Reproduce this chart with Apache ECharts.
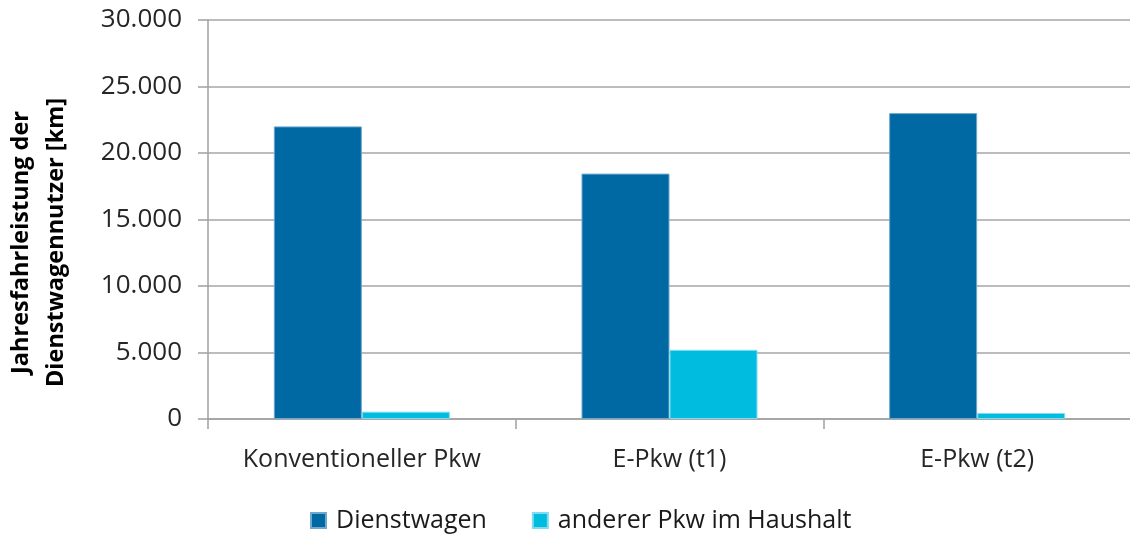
<!DOCTYPE html>
<html>
<head>
<meta charset="utf-8">
<script src="https://cdn.jsdelivr.net/npm/echarts@6/dist/echarts.min.js"></script>
<style>html,body{margin:0;padding:0;background:#fff}#c{width:1130px;height:534px}</style>
</head>
<body>
<div id="c"></div>
<script>
const categories = ['Konventioneller Pkw', 'E-Pkw (t1)', 'E-Pkw (t2)'];
const dienstwagen = [22000, 18450, 23000];
const andererPkw = [550, 5200, 450];
const seriesNames = ['Dienstwagen', 'anderer Pkw im Haushalt'];
const yTitle = 'Jahresfahrleistung der\nDienstwagennutzer [km]';

const FONT = '"Open Sans", sans-serif';
const chart = echarts.init(document.getElementById('c'), null, {renderer: 'canvas'});
chart.setOption({
  animation: false,
  textStyle: {fontFamily: FONT},
  grid: {left: 208, top: 20, width: 923, bottom: 115, containLabel: false, outerBoundsMode: 'none'},
  legend: {
    left: 305, top: 503, padding: 5, itemWidth: 15, itemHeight: 15, itemGap: 45,
    icon: 'rect',
    textStyle: {fontFamily: FONT, fontSize: 25, color: '#1a1a1a', padding: [0, 0, 0, 5]},
    data: seriesNames
  },
  xAxis: {
    type: 'category', data: categories,
    axisLine: {lineStyle: {color: '#a0a0a0', width: 1.5}},
    axisTick: {show: true, length: 10, interval: 0, alignWithLabel: false, lineStyle: {color: '#a0a0a0', width: 1.5}},
    axisLabel: {fontFamily: FONT, fontSize: 25, color: '#262626', margin: 28, interval: 0}
  },
  yAxis: {
    type: 'value', min: 0, max: 30000, interval: 5000,
    name: yTitle, nameLocation: 'middle', nameRotate: 90, nameGap: 134,
    nameTextStyle: {fontFamily: FONT, fontSize: 23.5, fontWeight: 'bold', color: '#000', lineHeight: 35, align: 'center', padding: [0, 46, 0, 0]},
    axisLine: {show: true, lineStyle: {color: '#a0a0a0', width: 1.5}},
    axisTick: {show: true, length: 10, lineStyle: {color: '#a0a0a0', width: 1.5}},
    splitLine: {lineStyle: {color: '#a6a6a6', width: 1.5}},
    axisLabel: {
      fontFamily: FONT, fontSize: 26, color: '#262626', margin: 26,
      formatter: v => v.toLocaleString('de-DE')
    }
  },
  series: [
    {name: seriesNames[0], type: 'bar', data: dienstwagen, barWidth: 88, barGap: '0%',
     itemStyle: {color: '#0068a3', borderColor: '#6fa8cc', borderWidth: 1}},
    {name: seriesNames[1], type: 'bar', data: andererPkw, barWidth: 88,
     itemStyle: {color: '#00bde0', borderColor: '#7fdcf0', borderWidth: 1}}
  ]
});
</script>
</body>
</html>
